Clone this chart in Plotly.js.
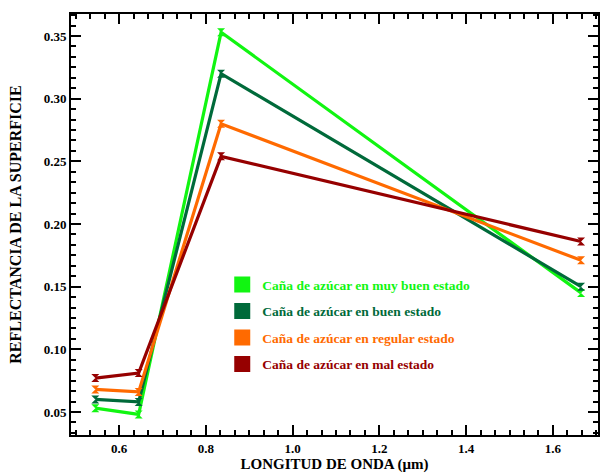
<!DOCTYPE html>
<html><head><meta charset="utf-8">
<script src="https://cdn.plot.ly/plotly-3.0.1.min.js"></script>
<style>html,body{margin:0;padding:0;background:#fff}#chart{width:600px;height:474px}</style>
</head><body><div id="chart"></div>
<script>
const wavelengths = [0.545, 0.645, 0.835, 1.665];
const seriesNames = ["Caña de azúcar en muy buen estado","Caña de azúcar en buen estado","Caña de azúcar en regular estado","Caña de azúcar en mal estado"];
const muyBuen = [0.053, 0.048, 0.353, 0.145];
const buen    = [0.060, 0.058, 0.320, 0.150];
const regular = [0.068, 0.066, 0.280, 0.171];
const mal     = [0.077, 0.081, 0.254, 0.186];
const seriesValues = [muyBuen, buen, regular, mal];
const colors = ["#11f511", "#006a3a", "#ff6a00", "#960000"];
const serif = "Liberation Serif, Times New Roman, serif";

const traces = [];
seriesValues.forEach((vals, i) => {
  traces.push({x: wavelengths, y: vals, mode: 'lines+markers', showlegend: false,
    line: {color: colors[i], width: 3.2}, marker: {color: colors[i], symbol: 'hourglass', size: 8}});
});
seriesValues.forEach((vals, i) => {
  traces.push({x: [null], y: [null], mode: 'markers', legendgroup: 'g' + i,
    name: '<span style="color:' + colors[i] + '">' + seriesNames[i] + '</span>',
    marker: {color: colors[i], symbol: 'square', size: 18}});
});

const axisCommon = {showline: true, linewidth: 2, linecolor: '#000', mirror: 'allticks', ticks: 'inside',
  ticklen: 10, tickwidth: 2, tickcolor: '#000', showgrid: false, zeroline: false,
  tickfont: {family: serif, size: 13, color: '#000', weight: 'bold'}};

const layout = {
  width: 600, height: 474, margin: {l: 71, r: 2, t: 14, b: 39},
  paper_bgcolor: '#fff', plot_bgcolor: '#fff',
  xaxis: Object.assign({}, axisCommon, {range: [0.489, 1.704], dtick: 0.2, tick0: 0.6, tickformat: '.1f',
    minor: {dtick: 0.2/6, tick0: 0.6, ticks: 'inside', ticklen: 5, tickwidth: 2, tickcolor: '#000'},
    title: {text: 'LONGITUD DE ONDA (μm)', standoff: 3, font: {family: serif, size: 15, color: '#000', weight: 'bold'}}}),
  yaxis: Object.assign({}, axisCommon, {range: [0.0316, 0.3676], dtick: 0.05, tick0: 0.05, tickformat: '.2f',
    minor: {dtick: 0.05/6, tick0: 0.05, ticks: 'inside', ticklen: 5, tickwidth: 2, tickcolor: '#000'},
    title: {text: 'REFLECTANCIA DE LA SUPERFICIE', standoff: 18, font: {family: serif, size: 16, color: '#000', weight: 'bold'}}}),
  legend: {x: 0.287, y: 0.394, xanchor: 'left', yanchor: 'top', bgcolor: 'rgba(0,0,0,0)',
    traceorder: 'grouped', tracegroupgap: 6,
    font: {family: serif, size: 13.5, weight: 'bold'}},
  showlegend: true
};
Plotly.newPlot('chart', traces, layout, {displayModeBar: false, staticPlot: true});
</script></body></html>
